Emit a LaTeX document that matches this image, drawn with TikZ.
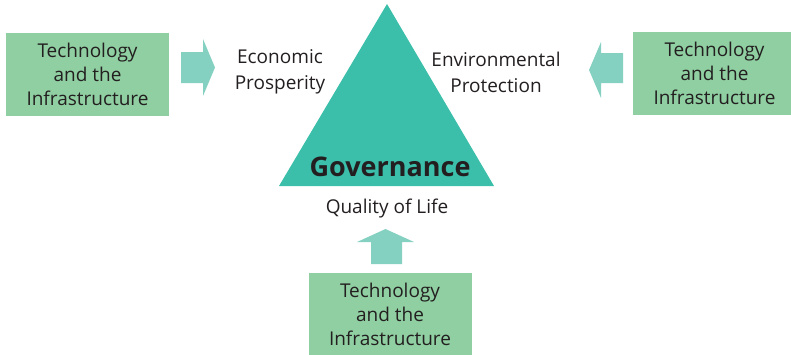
\documentclass[tikz,border=0pt]{standalone}
\usepackage{fontspec}
\setmainfont{Open Sans}
\usetikzlibrary{positioning}
\definecolor{boxgreen}{RGB}{143,207,161}
\definecolor{arrowteal}{RGB}{132,209,193}
\definecolor{trianteal}{RGB}{59,191,171}
\definecolor{textgray}{RGB}{35,31,32}

\begin{document}
\begin{tikzpicture}[x=1pt,y=-1pt,font=\fontsize{19}{24}\selectfont,every node/.style={align=center,text=textgray}]
    \tikzset{techbox/.style={fill=boxgreen,minimum width=163pt,minimum height=83pt,inner sep=0pt},
      blockarrow/.style={fill=arrowteal},
      pillar/.style={font=\fontsize{19}{26}\selectfont}}
    \useasboundingbox (0,0) rectangle (791,354);
    % triangle
    \fill[trianteal] (387,4) coordinate (apex) -- (494,186) coordinate (baseR) -- (279,186) coordinate (baseL) -- cycle;
    \node[font=\fontsize{27}{27}\selectfont\bfseries] (gov) at (390,167) {Governance};
    \node[pillar] (econ) at (280,72) {Economic\\Prosperity};
    \node[pillar] (env) at (496,72) {Environmental\\Protection};
    \node (qol) at (387,209) {Quality of Life};
    % boxes
    \node[techbox] (techL) at (87.5,74.5) {Technology\\and the\\Infrastructure};
    \node[techbox] (techR) at (714.5,73) {Technology\\and the\\Infrastructure};
    \node[techbox] (techB) at (390,314.5) {Technology\\and the\\Infrastructure};
    % block arrows
    \fill[blockarrow] (181,52) -- (203,52) -- (203,39) -- (215,67.5) -- (203,96) -- (203,83) -- (181,83) -- cycle;
    \fill[blockarrow] (623,53) -- (601,53) -- (601,42) -- (589,70) -- (601,98) -- (601,83) -- (623,83) -- cycle;
    \fill[blockarrow] (371,264) -- (371,242) -- (357,242) -- (385.5,229) -- (414,242) -- (402,242) -- (402,264) -- cycle;
\end{tikzpicture}
\end{document}
